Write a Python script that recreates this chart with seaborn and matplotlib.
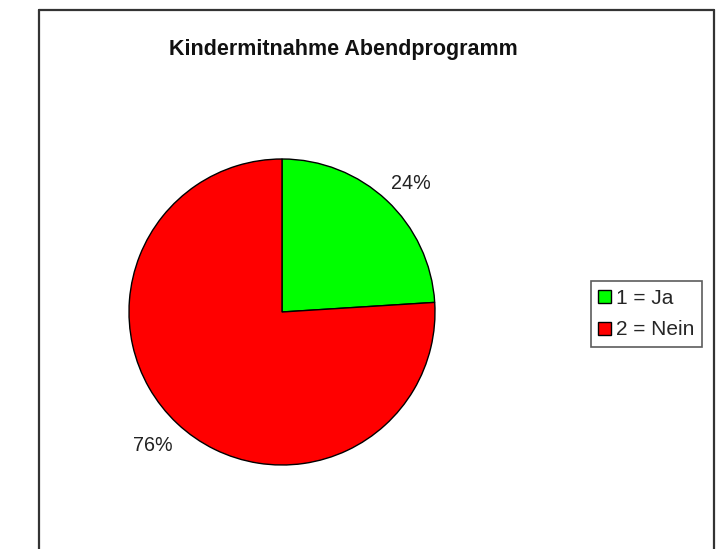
import matplotlib
matplotlib.use("Agg")
import numpy as np
import matplotlib.pyplot as plt
from matplotlib.patches import Patch
from matplotlib.lines import Line2D
import seaborn as sns

sns.set_theme(style="white")
plt.rcParams["font.family"] = ["Liberation Sans", "DejaVu Sans"]

categories = ["1 = Ja", "2 = Nein"]
shares = [24, 76]
pct_labels = ["24%", "76%"]
colors = ["#00FF00", "#FF0000"]
title = "Kindermitnahme Abendprogramm"

W, H = 716, 549
fig = plt.figure(figsize=(W / 100, H / 100), dpi=100)
fig.patch.set_facecolor("white")

# pie axes, square in pixels
cx, cy, r = 282, 312, 153
ax = fig.add_axes([(cx - r) / W, 1 - (cy + r) / H, 2 * r / W, 2 * r / H])
wedges, _ = ax.pie(
    shares, colors=colors, startangle=90, counterclock=False,
    wedgeprops=dict(edgecolor="black", linewidth=1.0),
)
# percentage labels just outside each wedge's mid-angle
for w, lab in zip(wedges, pct_labels):
    mid = np.deg2rad((w.theta1 + w.theta2) / 2 - 1.4)
    ax.text(1.2 * np.cos(mid), 1.2 * np.sin(mid) - 0.017, lab, ha="center", va="center",
            fontsize=14.2, color="#222222")
ax.set_xlim(-1, 1)
ax.set_ylim(-1, 1)
ax.set_aspect("equal")
ax.axis("off")

fig.text(343 / W, 1 - 49 / H, title, ha="center", va="center",
         fontsize=15.5, fontweight="bold", color="#111111")

# outer frame (open at the bottom)
fx0, fx1, fy = 38.5 / W, 713.5 / W, 1 - 9.5 / H
for xs, ys in [([fx0, fx0], [0, fy]), ([fx0, fx1], [fy, fy]), ([fx1, fx1], [fy, 0])]:
    fig.add_artist(Line2D(xs, ys, transform=fig.transFigure, color="#333333", linewidth=1.6))

handles = [Patch(facecolor=c, edgecolor="black", linewidth=1.0) for c in colors]
leg = fig.legend(handles, categories, loc="upper left",
                 bbox_to_anchor=(590.5 / W, 1 - 281 / H), bbox_transform=fig.transFigure,
                 fontsize=15, frameon=True, fancybox=False, handlelength=0.58,
                 handleheight=0.58, handletextpad=0.25, borderpad=0.38, labelspacing=0.6,
                 borderaxespad=0)
leg.get_frame().set_edgecolor("#333333")
leg.get_frame().set_linewidth(1.2)

fig.savefig("out.png", dpi=100, facecolor="white")
